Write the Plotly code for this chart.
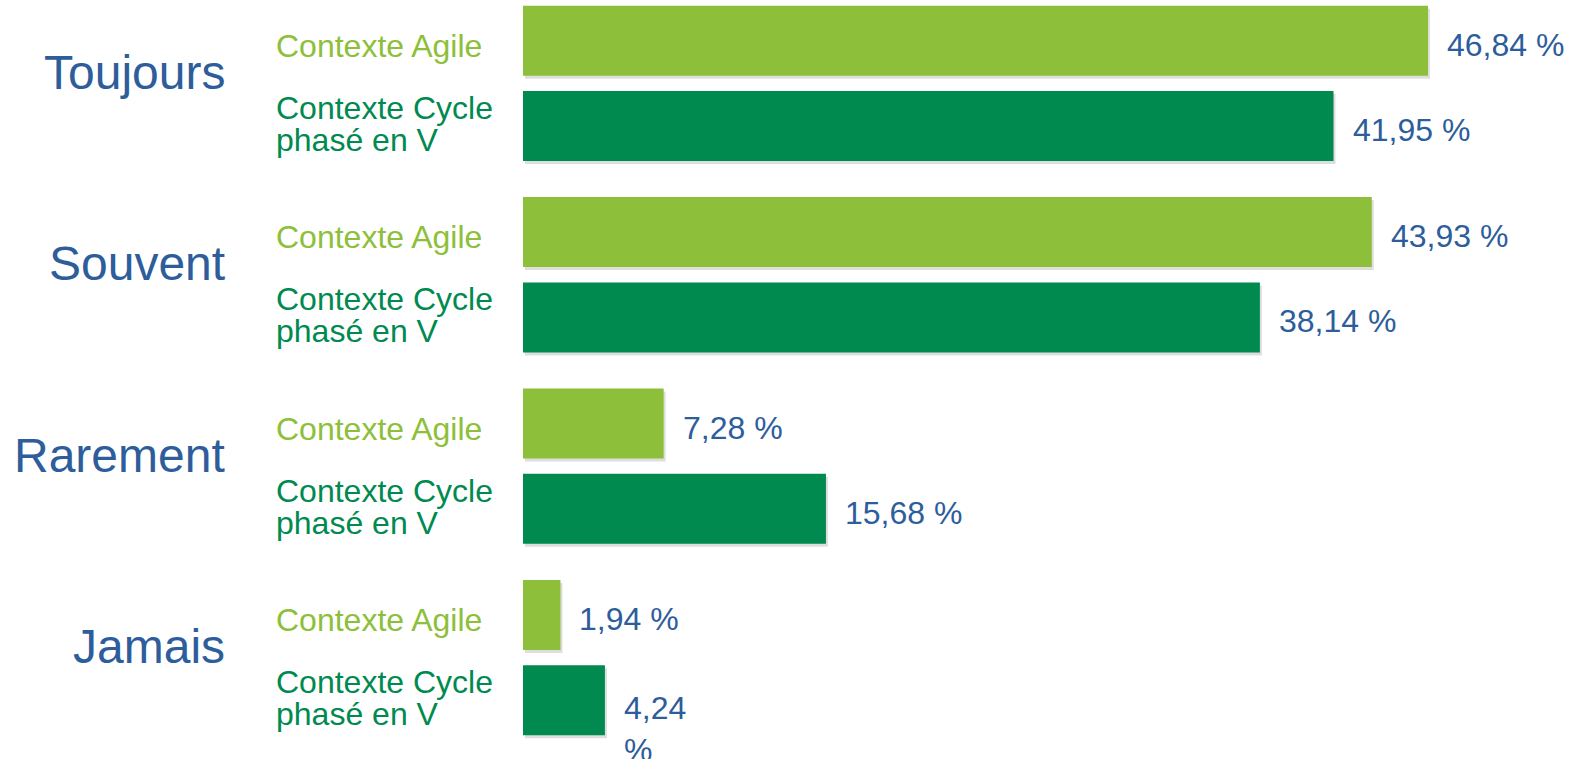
import plotly.graph_objects as go

categories = ["Toujours", "Souvent", "Rarement", "Jamais"]
series_names = ["Contexte Agile", "Contexte Cycle phasé en V"]
agile_values = [46.84, 43.93, 7.28, 1.94]
cycle_values = [41.95, 38.14, 15.68, 4.24]

LIGHT = "#8DBF3A"
DARK = "#008A50"
BLUE = "#2D5D9B"
FONT = "Liberation Sans, Arial, sans-serif"

def fmt(v):
    return f"{v:.2f}".replace(".", ",") + " %"

idx = list(range(len(categories)))
BARGAP = 0.109
GROUPGAP = 0.179
half_slot = (1 - BARGAP) / 4  # offset of each bar centre from category centre

X_RANGE = [0, 54.5]
Y_RANGE = [3.530, -0.4355]
PX_X = (X_RANGE[1] - X_RANGE[0]) / 1053.0
PX_Y = (Y_RANGE[0] - Y_RANGE[1]) / 759.0
SH_DX, SH_DY = 2, 3  # shadow offset in px

fig = go.Figure()
# soft shadows (drawn on the base axes, below)
for vals in (agile_values, cycle_values):
    fig.add_trace(go.Bar(y=idx, x=vals, orientation="h", xaxis="x", yaxis="y",
                         marker=dict(color="rgba(0,0,0,0.13)", line=dict(width=0)),
                         hoverinfo="skip", showlegend=False))
# real bars on overlaying axes
fig.add_trace(go.Bar(y=idx, x=agile_values, orientation="h", name=series_names[0],
                     xaxis="x2", yaxis="y2",
                     marker=dict(color=LIGHT, line=dict(width=0)), hoverinfo="x"))
fig.add_trace(go.Bar(y=idx, x=cycle_values, orientation="h", name=series_names[1],
                     xaxis="x2", yaxis="y2",
                     marker=dict(color=DARK, line=dict(width=0)), hoverinfo="x"))

ann = []
for i, cat in enumerate(categories):
    common = dict(xref="x2", yref="y2", showarrow=False, yanchor="middle")
    ann.append(dict(x=0, y=i, text=cat, xanchor="right", xshift=-296, yshift=11,
                    font=dict(family=FONT, size=48, color=BLUE), **common))
    ann.append(dict(x=0, y=i - half_slot, text="Contexte Agile", xanchor="left", xshift=-249, yshift=-5,
                    font=dict(family=FONT, size=32, color=LIGHT), **common))
    ann.append(dict(x=0, y=i + half_slot, text="Contexte Cycle", xanchor="left", xshift=-249, yshift=18,
                    font=dict(family=FONT, size=32, color=DARK), **common))
    ann.append(dict(x=0, y=i + half_slot, text="phasé en V", xanchor="left", xshift=-249, yshift=-14,
                    font=dict(family=FONT, size=32, color=DARK), **common))
    ann.append(dict(x=agile_values[i], y=i - half_slot, text=fmt(agile_values[i]),
                    xanchor="left", xshift=17, yshift=-4,
                    font=dict(family=FONT, size=32, color=BLUE), **common))
    ctext = fmt(cycle_values[i])
    ys = -4
    if cycle_values[i] < 5:
        ctext = ctext.replace(" ", "<br>")
        ys = -29
    ann.append(dict(x=cycle_values[i], y=i + half_slot, text=ctext,
                    xanchor="left", xshift=17, yshift=ys, align="left",
                    font=dict(family=FONT, size=32, color=BLUE), **common))

fig.update_layout(
    width=1576, height=759,
    margin=dict(l=523, r=0, t=0, b=0),
    paper_bgcolor="white", plot_bgcolor="rgba(0,0,0,0)",
    barmode="group", bargap=BARGAP, bargroupgap=GROUPGAP,
    showlegend=False,
    annotations=ann,
    xaxis=dict(range=[X_RANGE[0] - SH_DX * PX_X, X_RANGE[1] - SH_DX * PX_X], visible=False, fixedrange=True),
    yaxis=dict(range=[Y_RANGE[0] - SH_DY * PX_Y, Y_RANGE[1] - SH_DY * PX_Y], visible=False, fixedrange=True),
    xaxis2=dict(range=X_RANGE, visible=False, fixedrange=True, overlaying="x"),
    yaxis2=dict(range=Y_RANGE, visible=False, fixedrange=True, overlaying="y"),
)

fig.write_html("out.html", config={"displayModeBar": False},
               post_script="document.body.style.margin='0';document.body.style.overflow='hidden';")
